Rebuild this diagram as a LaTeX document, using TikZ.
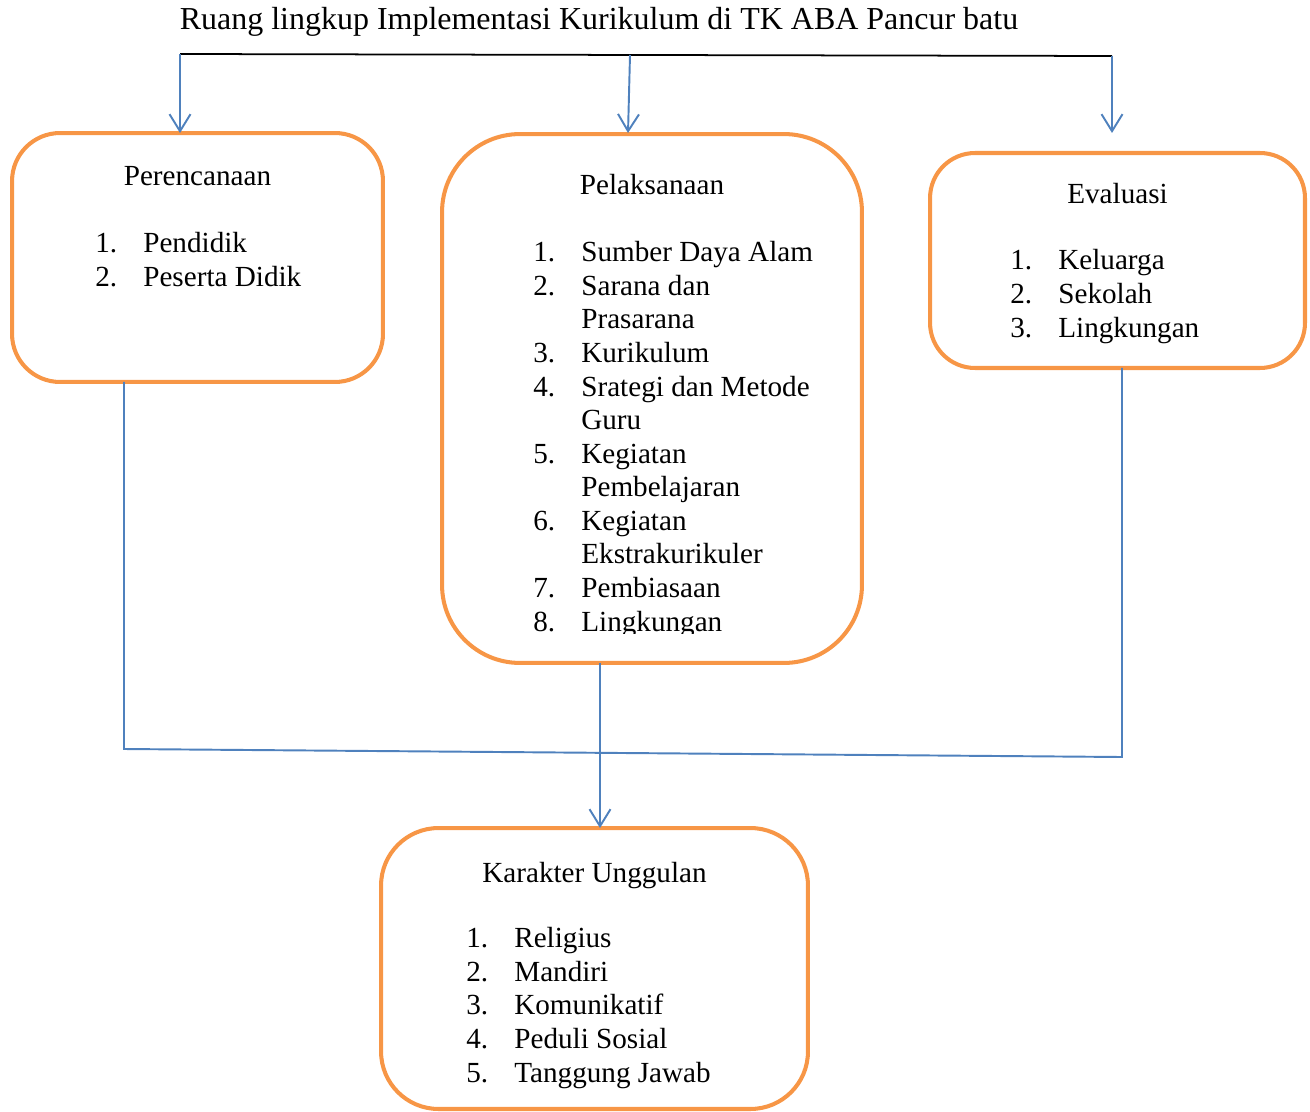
\documentclass[tikz,border=0pt]{standalone}
\usepackage{fontspec}
\setmainfont{Liberation Serif}
\usetikzlibrary{positioning,arrows.meta}
\definecolor{bordorange}{RGB}{247,150,70}
\definecolor{linkblue}{RGB}{79,129,189}
\newcommand{\lnum}[1]{\makebox[0.96cm][l]{#1.}}
\newcommand{\lcont}{\hspace*{0.96cm}}

\begin{document}
\begin{tikzpicture}[
        x=0.02cm, y=-0.02cm,
        font=\fontsize{16.6}{19.1}\selectfont,
        panel/.style={draw=bordorange, line width=2.3pt, inner sep=0pt, outer sep=0pt},
        head/.style={anchor=base, inner sep=0pt},
        lst/.style={anchor=base west, align=left, inner sep=0pt},
        link/.style={draw=linkblue, line width=1.1pt},
        arrow/.style={link, -{Straight Barb[length=0.34cm,width=0.42cm]}}
    ]
    \useasboundingbox (0,0) rectangle (1310,1111);
    % title and top rail
    \node[head, font=\fontsize{18.2}{21}\selectfont] (title) at (599,30) {Ruang lingkup Implementasi Kurikulum di TK ABA Pancur batu};
    \coordinate (railL) at (180,54);
    \coordinate (railM) at (630,55);
    \coordinate (railR) at (1112,56);
    \draw[black, line width=1pt] (railL) -- (railR);
    % panels
    \node[panel, rounded corners=0.96cm, minimum width=7.42cm, minimum height=4.98cm] (plan) at (197.5,257.5) {};
    \node[panel, rounded corners=1.56cm, minimum width=8.4cm, minimum height=10.58cm] (pel) at (652,398.5) {};
    \node[panel, rounded corners=0.9cm, minimum width=7.5cm, minimum height=4.3cm] (eval) at (1117.5,260.5) {};
    \node[panel, rounded corners=1.15cm, minimum width=8.54cm, minimum height=5.62cm] (kar) at (594.5,968.5) {};
    % panel texts (base anchor = last line)
    \node[head] (plantitle) at (plan.north |- 0,186) {Perencanaan};
    \node[lst] (planlist) at (95,286) {\lnum{1}Pendidik\\ \lnum{2}Peserta Didik};
    \node[head] (peltitle) at (pel.north |- 0,195) {Pelaksanaan};
    \begin{scope}
        \clip (442,134) rectangle (862,633);
        \node[lst] (pellist) at (533,631) {\lnum{1}Sumber Daya Alam\\ \lnum{2}Sarana dan\\ \lcont Prasarana\\
            \lnum{3}Kurikulum\\ \lnum{4}Srategi dan Metode\\ \lcont Guru\\ \lnum{5}Kegiatan\\ \lcont Pembelajaran\\
            \lnum{6}Kegiatan\\ \lcont Ekstrakurikuler\\ \lnum{7}Pembiasaan\\ \lnum{8}Lingkungan};
    \end{scope}
    \node[head] (evaltitle) at (eval.north |- 0,204) {Evaluasi};
    \node[lst] (evallist) at (1010,337) {\lnum{1}Keluarga\\ \lnum{2}Sekolah\\ \lnum{3}Lingkungan};
    \node[head] (kartitle) at (kar.north |- 0,882) {Karakter Unggulan};
    \node[lst] (karlist) at (466,1082) {\lnum{1}Religius\\ \lnum{2}Mandiri\\ \lnum{3}Komunikatif\\
        \lnum{4}Peduli Sosial\\ \lnum{5}Tanggung Jawab};
    % connectors
    \coordinate (evaltop) at (1112,133);
    \coordinate (joinL) at (124,749);
    \coordinate (joinR) at (1122,757);
    \coordinate (joinM) at (600,753);
    \draw[arrow] (railL) -- (railL |- plan.north);
    \draw[arrow] (railM) -- (628,133);
    \draw[arrow] (railR) -- (evaltop);
    \draw[link] (plan.south -| joinL) -- (joinL) -- (joinR) -- (eval.south -| joinR);
    \draw[arrow] (pel.south -| joinM) -- (joinM |- kar.north);
\end{tikzpicture}
\end{document}
